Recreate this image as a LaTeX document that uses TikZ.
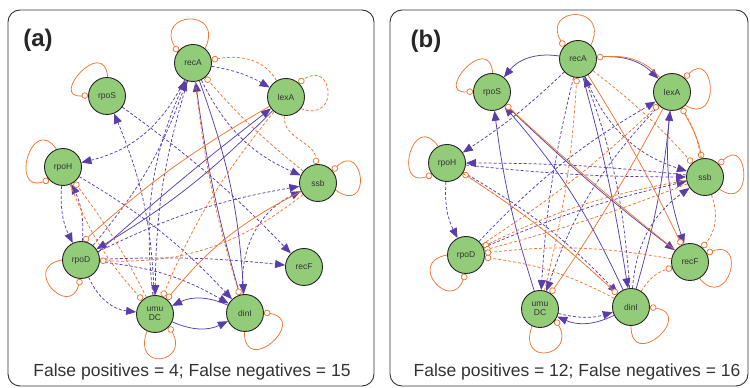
\documentclass[tikz,border=0pt]{standalone}
\usepackage{fontspec}
\setmainfont{Liberation Sans}
\usetikzlibrary{arrows.meta}
\definecolor{nodegreen}{RGB}{146,204,120}
\definecolor{actpurple}{RGB}{90,62,168}
\definecolor{reporange}{RGB}{240,118,48}
\definecolor{framegray}{RGB}{51,51,51}
\newcommand\genefont{\fontsize{8.5}{9.5}\selectfont}
\pgfdeclarelayer{edges}
\pgfsetlayers{edges,main}
\tikzset{
  gene/.style={circle, draw=black!85, line width=0.9pt, fill=nodegreen,
    minimum size=37pt, inner sep=0pt, font=\genefont, text=black!80, align=center},
  act/.style={draw=actpurple, line width=0.75pt, -{Triangle[length=10pt,width=8pt]}},
  actd/.style={act, dash pattern=on 3pt off 2pt},
  rep/.style={draw=reporange, line width=0.75pt, -{Circle[length=6.5pt,fill=white]}},
  repd/.style={rep, dash pattern=on 3pt off 2pt},
  panel/.style={draw=framegray, line width=0.9pt, rounded corners=12pt},
  tag/.style={font=\bfseries\fontsize{24}{26}\selectfont, text=black!85},
  caption/.style={font=\fontsize{17.5}{20}\selectfont, text=black!80}
}
\begin{document}
\begin{tikzpicture}[x=1pt,y=1pt]
\useasboundingbox (0,0) rectangle (750,388);
\draw[panel] (8,2) rectangle (374,378);
\draw[panel] (390,2) rectangle (748,378);
\node[tag] (taga) at (38,348) {(a)};
\node[tag] (tagb) at (426,347) {(b)};
\node[caption] (capa) at (192,16) {False positives = 4; False negatives = 15};
\node[caption] (capb) at (577,16) {False positives = 12; False negatives = 16};

% ---------- network (a) ----------
\node[gene] (recAa)  at (193,325) {recA};
\node[gene] (rpoSa)  at (107,292) {rpoS};
\node[gene] (lexAa)  at (286,291) {lexA};
\node[gene] (rpoHa)  at (63,221)  {rpoH};
\node[gene] (ssba)   at (318,205) {ssb};
\node[gene] (rpoDa)  at (81,128)  {rpoD};
\node[gene] (recFa)  at (304,121) {recF};
\node[gene] (umuDCa) at (155,74)  {umu\\DC};
\node[gene] (dinIa)  at (245,75)  {dinI};

\begin{pgfonlayer}{edges}
% self repression
\draw[rep] (recAa.50) .. controls +(65:46) and +(120:46) .. (recAa.144);
\draw[rep] (rpoSa.88) .. controls +(95:42) and +(185:40) .. (rpoSa.178);
\draw[rep] (rpoHa.110) .. controls +(125:44) and +(200:42) .. (rpoHa.222);
\draw[rep] (rpoDa.180) .. controls +(190:42) and +(255:42) .. (rpoDa.268);
\draw[rep] (umuDCa.245) .. controls +(250:44) and +(300:42) .. (umuDCa.318);
\draw[rep] (dinIa.268) .. controls +(270:46) and +(-10:46) .. (dinIa.2);
\draw[rep] (ssba.-22) .. controls +(-35:46) and +(45:44) .. (ssba.40);
\draw[repd] (lexAa.-38) .. controls +(-20:42) and +(35:42) .. (lexAa.48);
% activation
\draw[actd] (recAa) to[bend left=10] (lexAa);
\draw[actd] (recAa) to[bend left=25] (rpoHa);
\draw[actd] (umuDCa) to[bend right=10] (rpoSa);
\draw[actd] (rpoSa) to[bend left=5] (recFa);
\draw[actd] (rpoHa) to[bend right=15] (rpoDa);
\draw[actd] (rpoDa) to[bend right=15] (rpoHa);
\draw[actd] (recAa) to[bend right=20] (ssba);
\draw[actd] (rpoDa) to[bend left=8] (ssba);
\draw[actd] (dinIa) to[bend left=35] (ssba);
\draw[actd] (rpoDa) to[bend left=4] (recFa);
\draw[actd] (rpoDa) to[bend right=30] (umuDCa);
\draw[actd] (rpoDa) to[bend left=12] (dinIa);
\draw[actd] (recAa) to[bend right=8] (umuDCa);
\draw[actd] (rpoHa) to[bend left=8] (dinIa);
\draw[actd] (umuDCa) to[bend left=15] (recAa);
\draw[actd] (rpoDa) to[bend right=10] (recAa);
\draw[act] (recAa) to[bend left=8] (dinIa);
\draw[act] (dinIa) to[bend left=4] (recAa);
\draw[act] (rpoDa.25) to[bend left=2] (lexAa);
\draw[act] (lexAa) to[bend left=7] (rpoDa.35);
\draw[act] (umuDCa) to[bend right=25] (dinIa);
\draw[act] (dinIa) to[bend right=25] (umuDCa);
% repression
\draw[repd] (lexAa) to[out=120,in=10] (recAa);
\draw[repd] (lexAa) to[out=265,in=95] (ssba);
\draw[repd] (ssba) to[bend left=5] (recAa);
\draw[rep] (lexAa) to[bend right=6] (rpoDa.82);
\draw[rep] (ssba) to[bend right=12] (umuDCa);
\draw[repd] (lexAa) to[bend right=8] (umuDCa);
\draw[repd] (ssba) to[bend left=20] (rpoDa);
\draw[repd] (umuDCa) to[bend right=5] (rpoHa);
\draw[repd] (rpoHa) to[bend right=10] (umuDCa);
\draw[repd] (recAa) to[bend right=5] (dinIa);
\end{pgfonlayer}

% ---------- network (b) ----------
\node[gene] (recAb)  at (578,329) {recA};
\node[gene] (rpoSb)  at (492,296) {rpoS};
\node[gene] (lexAb)  at (672,296) {lexA};
\node[gene] (rpoHb)  at (447,225) {rpoH};
\node[gene] (ssbb)   at (705,211) {ssb};
\node[gene] (rpoDb)  at (466,133) {rpoD};
\node[gene] (recFb)  at (690,126) {recF};
\node[gene] (umuDCb) at (540,79)  {umu\\DC};
\node[gene] (dinIb)  at (631,81)  {dinI};

\begin{pgfonlayer}{edges}
% self repression
\draw[rep] (recAb.47) .. controls +(65:46) and +(120:46) .. (recAb.138);
\draw[rep] (rpoSb.88) .. controls +(95:42) and +(185:40) .. (rpoSb.178);
\draw[rep] (rpoHb.118) .. controls +(125:44) and +(200:42) .. (rpoHb.218);
\draw[rep] (rpoDb.180) .. controls +(190:42) and +(250:42) .. (rpoDb.268);
\draw[rep] (umuDCb.245) .. controls +(250:44) and +(300:42) .. (umuDCb.325);
\draw[rep] (dinIb.270) .. controls +(270:46) and +(-10:46) .. (dinIb.0);
\draw[rep] (recFb.-60) .. controls +(-50:44) and +(20:44) .. (recFb.28);
\draw[rep] (ssbb.-40) .. controls +(-35:42) and +(45:42) .. (ssbb.42);
\draw[rep] (lexAb.-45) .. controls +(-30:42) and +(45:42) .. (lexAb.48);
% activation
\draw[act] (recAb) to[bend right=30] (rpoSb);
\draw[act] (recAb) to[bend left=25] (lexAb);
\draw[actd] (recAb) to[bend left=5] (rpoHb);
\draw[actd] (ssbb) to[bend right=3] (rpoHb);
\draw[actd] (rpoHb) to[bend right=3] (ssbb);
\draw[actd] (recAb) to[bend right=25] (ssbb);
\draw[actd] (rpoDb) to[bend left=5] (ssbb);
\draw[actd] (dinIb) to[bend left=25] (ssbb);
\draw[act] (dinIb) to[bend right=8] (rpoSb);
\draw[act] (umuDCb) to[bend left=5] (rpoSb);
\draw[act] (rpoSb) to[bend right=3] (recFb);
\draw[act] (lexAb) to[bend right=12] (recFb);
\draw[act] (dinIb) to[bend right=5] (lexAb);
\draw[actd] (rpoHb) to[bend right=15] (rpoDb);
\draw[actd] (rpoHb) to[bend left=8] (dinIb);
\draw[actd] (recAb) to[bend right=5] (umuDCb);
\draw[actd] (lexAb) to[bend right=12] (umuDCb);
\draw[act] (dinIb) to[bend left=25] (umuDCb);
\draw[actd] (umuDCb) to[bend right=15] (dinIb);
\draw[actd] (dinIb) to[bend right=8] (recAb);
\draw[act] (recAb) to[bend left=3] (dinIb);
\draw[actd] (rpoDb) to[bend left=8] (lexAb);
% repression
\draw[rep] (lexAb) to[out=130,in=5] (recAb);
\draw[rep] (lexAb) to[out=-60,in=100] (ssbb);
\draw[repd] (ssbb) to[bend right=10] (lexAb);
\draw[rep] (lexAb) to[bend left=3] (umuDCb);
\draw[rep] (recFb) to[bend left=2] (rpoSb);
\draw[rep] (recAb) to[bend left=3] (recFb);
\draw[repd] (ssbb) to[bend right=8] (rpoDb);
\draw[repd] (ssbb) to[bend left=3] (rpoDb);
\draw[repd] (recFb) to[bend right=8] (rpoDb);
\draw[repd] (dinIb) to[bend right=10] (rpoDb);
\draw[repd] (dinIb) to[bend right=5] (rpoHb);
\draw[repd] (rpoHb) to[bend left=5] (dinIb);
\draw[repd] (dinIb) to[bend left=20] (recFb);
\draw[repd] (ssbb) to[bend left=30] (recFb);
\draw[repd] (recAb) to[bend left=5] (ssbb);
\draw[repd] (umuDCb) to[bend right=5] (recAb);
\draw[repd] (rpoDb) to[bend right=5] (lexAb);
\end{pgfonlayer}
\end{tikzpicture}
\end{document}
